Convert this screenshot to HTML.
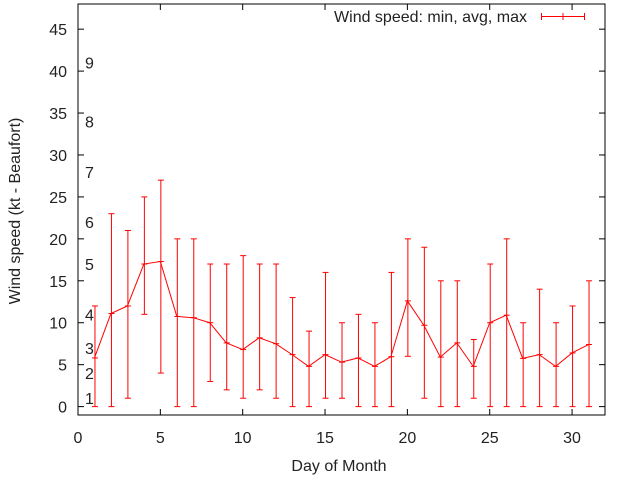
<!DOCTYPE html>
<html><head><meta charset="utf-8"><style>
body{margin:0;background:#fff}
svg text{font-family:"Liberation Sans",sans-serif;font-size:16px;fill:#222}
</style></head><body>
<svg id="chart" width="640" height="480" xmlns="http://www.w3.org/2000/svg">
<rect width="640" height="480" fill="#fff"/>
<g id="axes"></g>
<g id="marks"></g>
</svg>
<script>
const days=[1,2,3,4,5,6,7,8,9,10,11,12,13,14,15,16,17,18,19,20,21,22,23,24,25,26,27,28,29,30,31];
const minVals=[0,0,1,11,4,0,0,3,2,1,2,1,0,0,1,1,0,0,0,6,1,0,0,1,0,0,0,0,0,0,0];
const avgVals=[5.8,11.1,12,17,17.3,10.75,10.6,10,7.6,6.8,8.2,7.5,6.2,4.8,6.2,5.3,5.8,4.8,5.95,12.6,9.7,5.9,7.6,4.8,10,10.9,5.75,6.2,4.8,6.4,7.4];
const maxVals=[12,23,21,25,27,20,20,17,17,18,17,17,13,9,16,10,11,10,16,20,19,15,15,8,17,20,10,14,10,12,15];
const yTicks=[0,5,10,15,20,25,30,35,40,45];
const xTicks=[0,5,10,15,20,25,30];
const beaufortLabels=["1","2","3","4","5","6","7","8","9"];
const beaufortVals=[1,4,7,11,17,22,28,34,41];

const L=78,R=605,T=4,B=415,X0=0,X1=32,Y0=-1,Y1=48;
const sx=v=>L+(v-X0)/(X1-X0)*(R-L);
const sy=v=>B-(v-Y0)/(Y1-Y0)*(B-T);
const NS="http://www.w3.org/2000/svg";
function mk(tag,attrs,parent,text){const e=document.createElementNS(NS,tag);for(const k in attrs)e.setAttribute(k,attrs[k]);if(text!==undefined)e.textContent=text;parent.appendChild(e);return e;}
const ax=document.getElementById('axes'),mg=document.getElementById('marks');
let e=mk('rect',{x:L,y:T,width:R-L,height:B-T,fill:'none',stroke:'#000','stroke-width':1},ax);


yTicks.forEach(v=>{const y=sy(v);
 mk('line',{x1:L,x2:L+6,y1:y,y2:y,stroke:'#000'},ax);
 mk('line',{x1:R,x2:R-6,y1:y,y2:y,stroke:'#000'},ax);
 const t=mk('text',{x:L-11,y:y+6,'text-anchor':'end'},ax,String(v));
 
 
});
xTicks.forEach(v=>{const x=sx(v);
 mk('line',{x1:x,x2:x,y1:B,y2:B-6,stroke:'#000'},ax);
 mk('line',{x1:x,x2:x,y1:T,y2:T+6,stroke:'#000'},ax);
 const t=mk('text',{x:x,y:B+28,'text-anchor':'middle'},ax,String(v));
 
 
});
beaufortLabels.forEach((s,i)=>{
 const t=mk('text',{x:85,y:sy(beaufortVals[i])+6},ax,s);
 
 
});
e=mk('text',{x:339,y:471,'text-anchor':'middle'},ax,'Day of Month');


e=mk('text',{x:0,y:0,'text-anchor':'middle',transform:'translate(20,211) rotate(-90)'},ax,'Wind speed (kt - Beaufort)');


e=mk('text',{x:527,y:22,'text-anchor':'end'},ax,'Wind speed: min, avg, max');


const lg=mk('g',{stroke:'#f00'},ax);


mk('line',{x1:541,x2:585,y1:16.5,y2:16.5},lg);
[541.5,563,584.5].forEach(x=>mk('line',{x1:x,x2:x,y1:13,y2:20},lg));
let pts=days.map((d,i)=>sx(d)+','+sy(avgVals[i])).join(' ');
e=mk('polyline',{points:pts,fill:'none',stroke:'#f00','stroke-width':1},mg);


days.forEach((d,i)=>{
 const x=sx(d)+0.5,g=mk('g',{stroke:'#f00','stroke-width':1},mg);
 
 
 mk('line',{x1:x,x2:x,y1:sy(minVals[i]),y2:sy(maxVals[i])},g);
 mk('line',{x1:x-3,x2:x+3,y1:sy(minVals[i]),y2:sy(minVals[i])},g);
 mk('line',{x1:x-3,x2:x+3,y1:sy(maxVals[i]),y2:sy(maxVals[i])},g);
 mk('line',{x1:x-3,x2:x+3,y1:sy(avgVals[i]),y2:sy(avgVals[i])},g);
});
</script>
</body></html>
